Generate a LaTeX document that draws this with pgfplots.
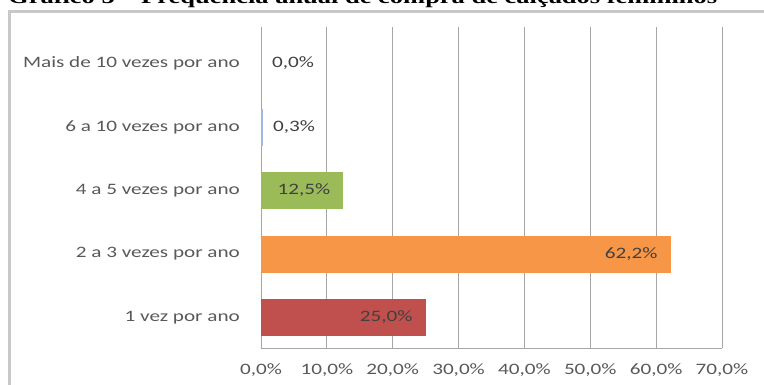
\documentclass[border=0pt]{standalone}
\usepackage{fontspec}
\setmainfont{Carlito}[FakeStretch=1.33]
\newfontfamily\titlefont{Liberation Serif}[FakeStretch=1.33]
\usepackage{pgfplots}
\pgfplotsset{compat=1.18}
\definecolor{lblgray}{HTML}{595959}
\definecolor{datagray}{HTML}{404040}
\definecolor{gridgray}{HTML}{A6A6A6}
\definecolor{framegray}{HTML}{C8C8C8}
\definecolor{barred}{HTML}{C0504D}
\definecolor{barorange}{HTML}{F79646}
\definecolor{bargreen}{HTML}{9BBB59}
\definecolor{barblue}{HTML}{9DB9DC}
\begin{document}
\begin{tikzpicture}[x=1pt,y=1pt]
\path[use as bounding box] (0,0) rectangle (764,385);
\clip (0,0) rectangle (764,385);
\node[anchor=base west, inner sep=0pt, font=\titlefont\bfseries\fontsize{19.9}{22}\selectfont] at (8,381.5) {Gráfico 5 – Frequência anual de compra de calçados femininos};
\draw[framegray, line width=3pt] (9.5,-20) -- (9.5,373) -- (800,373);
\begin{axis}[
  at={(261pt,37pt)}, anchor=south west, scale only axis,
  width=461pt, height=321pt,
  xbar, bar width=0.583, bar shift=0pt,
  xmin=0, xmax=70, ymin=-0.48, ymax=4.575,
  xtick={0,10,...,70}, ytick={0,1,2,3,4},
  yticklabels={1 vez por ano, 2 a 3 vezes por ano, 4 a 5 vezes por ano, 6 a 10 vezes por ano, Mais de 10 vezes por ano},
  xticklabel={\pgfmathprintnumber[fixed,fixed zerofill,precision=1,use comma]{\tick}\%},
  /pgf/number format/assume math mode=true,
  axis x line*=bottom, axis y line*=left,
  axis line style={gridgray, line width=0.8pt, -},
  xmajorgrids, grid style={gridgray, line width=0.8pt},
  major tick length=0pt,
  tick label style={font=\fontsize{15.9}{18}\selectfont, text=lblgray, inner sep=0pt},
  xticklabel style={anchor=base, yshift=-27pt},
  yticklabel style={anchor=east, xshift=-21pt},
  nodes near coords={\pgfmathprintnumber[fixed,fixed zerofill,precision=1,use comma]{\pgfplotspointmeta}\%},
  nodes near coords style={font=\fontsize{15.9}{18}\selectfont, text=datagray, inner sep=0pt},
  point meta=explicit,
]
\addplot[draw=none, fill=barred, every node near coord/.append style={anchor=east, xshift=-13pt}]
  coordinates {(25.0,0) [25.0]};
\addplot[draw=none, fill=barorange, every node near coord/.append style={anchor=east, xshift=-13pt}]
  coordinates {(62.2,1) [62.2]};
\addplot[draw=none, fill=bargreen, every node near coord/.append style={anchor=east, xshift=-13pt}]
  coordinates {(12.5,2) [12.5]};
\addplot[draw=none, fill=barblue, every node near coord/.append style={anchor=west, xshift=10pt}]
  coordinates {(0.3,3) [0.3]};
\addplot[draw=none, fill=barblue, every node near coord/.append style={anchor=west, xshift=11pt}]
  coordinates {(0.0,4) [0.0]};
\end{axis}
\end{tikzpicture}
\end{document}
